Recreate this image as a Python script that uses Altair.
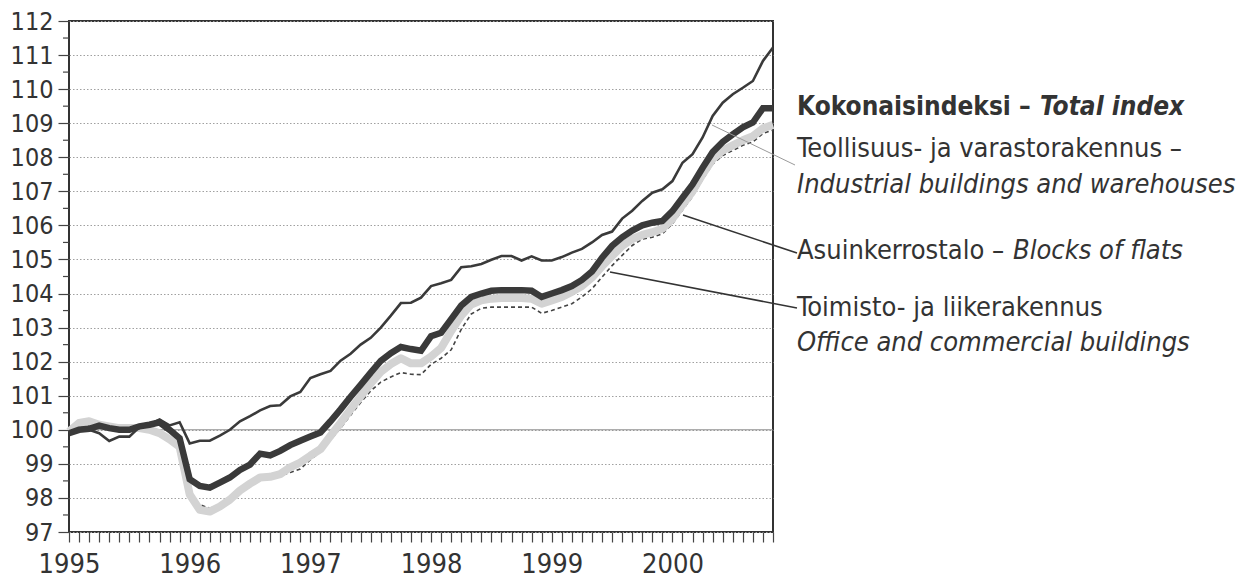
import altair as alt
import pandas as pd

# Months since January 1995 (0 = Jan 1995 ... 70 = Nov 2000)
months = list(range(71))
year_labels = ["1995", "1996", "1997", "1998", "1999", "2000"]

total_index = [99.9, 100.0, 100.03, 100.12, 100.05, 100.0, 100.0, 100.1, 100.15, 100.22,
               100.0, 99.75, 98.55, 98.35, 98.3, 98.45, 98.6, 98.82, 98.98, 99.3,
               99.25, 99.38, 99.55, 99.68, 99.8, 99.92, 100.25, 100.6, 100.97, 101.32,
               101.68, 102.02, 102.25, 102.43, 102.37, 102.32, 102.75, 102.85, 103.25, 103.65,
               103.9, 104.0, 104.08, 104.1, 104.1, 104.1, 104.08, 103.9, 104.0, 104.1,
               104.22, 104.4, 104.65, 105.05, 105.4, 105.65, 105.85, 106.0, 106.08, 106.13,
               106.42, 106.81, 107.2, 107.69, 108.15, 108.45, 108.67, 108.88, 109.02, 109.44,
               109.44]

industrial = [99.93, 100.03, 100.0, 99.9, 99.67, 99.8, 99.8, 100.08, 100.15, 100.3,
              100.13, 100.22, 99.6, 99.68, 99.68, 99.83, 100.0, 100.25, 100.4, 100.57,
              100.7, 100.72, 100.98, 101.11, 101.52, 101.63, 101.73, 102.03, 102.23, 102.5,
              102.7, 103.0, 103.35, 103.72, 103.73, 103.88, 104.22, 104.3, 104.4, 104.77,
              104.8, 104.87, 104.99, 105.1, 105.1, 104.97, 105.09, 104.97, 104.97, 105.07,
              105.2, 105.31, 105.5, 105.72, 105.82, 106.2, 106.43, 106.72, 106.96, 107.06,
              107.3, 107.84, 108.09, 108.58, 109.21, 109.6, 109.85, 110.04, 110.24, 110.83,
              111.22]

blocks_of_flats = [99.95, 100.2, 100.25, 100.15, 100.1, 100.05, 100.05, 100.05, 100.0, 99.9,
                   99.72, 99.5, 98.1, 97.65, 97.6, 97.75, 97.95, 98.22, 98.42, 98.6,
                   98.62, 98.7, 98.9, 99.04, 99.24, 99.43, 99.82, 100.2, 100.6, 100.98,
                   101.36, 101.7, 101.93, 102.1, 101.95, 101.95, 102.15, 102.4, 102.9, 103.35,
                   103.68, 103.8, 103.85, 103.87, 103.87, 103.87, 103.85, 103.7, 103.8, 103.9,
                   104.05, 104.22, 104.47, 104.8, 105.1, 105.4, 105.6, 105.72, 105.8, 105.9,
                   106.2, 106.6, 107.0, 107.5, 107.95, 108.2, 108.35, 108.5, 108.62, 108.85,
                   108.95]

office = [99.9, 100.1, 100.15, 100.1, 100.05, 100.0, 100.0, 100.0, 99.95, 99.85,
          99.65, 99.45, 98.05, 97.8, 97.7, 97.8, 97.95, 98.2, 98.4, 98.55,
          98.58, 98.65, 98.75, 98.85, 99.12, 99.35, 99.7, 100.05, 100.43, 100.8,
          101.14, 101.4, 101.55, 101.68, 101.63, 101.62, 101.92, 102.1, 102.35, 102.95,
          103.4, 103.57, 103.6, 103.6, 103.6, 103.6, 103.6, 103.42, 103.5, 103.6,
          103.7, 103.9, 104.14, 104.48, 104.82, 105.12, 105.41, 105.6, 105.65, 105.75,
          106.05, 106.45, 106.85, 107.35, 107.8, 108.05, 108.2, 108.35, 108.45, 108.7,
          108.8]

y_ticks = list(range(97, 113))
y_minor = [v + 0.5 for v in range(97, 112)]

FONT = "'DejaVu Sans Condensed', Roboto, sans-serif"
W, H = 704, 511

series = {"office": office, "flats": blocks_of_flats, "ind": industrial, "total": total_index}
rows = []
for name, vals in series.items():
    for m, v in zip(months, vals):
        rows.append({"m": m, "value": v, "s": name})
df = pd.DataFrame(rows)

label_list = "[" + ",".join("'%s'" % y for y in year_labels) + "]"
x_scale = alt.Scale(domain=[0, 70], nice=False, zero=False)
x_axis = alt.Axis(values=months, tickCount=len(months), domain=False, grid=False, tickSize=10,
                  tickColor="#444", tickWidth=1.2,
                  labelExpr="datum.value % 12 == 0 ? " + label_list + "[datum.value / 12] : ''",
                  labelOverlap=False, labelFont=FONT, labelFontSize=27,
                  labelColor="#333", labelPadding=9, labelFlush=False, title=None)
y_scale = alt.Scale(domain=[97, 112], nice=False, zero=False)
y_axis = alt.Axis(values=y_ticks, tickCount=len(y_ticks), domain=False, grid=True,
                  gridDash=[1.5, 2], gridColor="#a0a0a0", gridWidth=1, tickSize=11,
                  tickColor="#444", tickWidth=1.2, labelFont=FONT, labelFontSize=25,
                  labelColor="#333", labelPadding=5, labelOverlap=False, labelBound=False,
                  title=None)

base = alt.Chart(df)

office_line = base.transform_filter("datum.s == 'office'").mark_line(
    color="#444", strokeWidth=1.6, strokeDash=[4, 3]).encode(
    x=alt.X("m:Q", scale=x_scale, axis=x_axis),
    y=alt.Y("value:Q", scale=y_scale, axis=y_axis))
flats_line = base.transform_filter("datum.s == 'flats'").mark_line(
    color="#d3d3d3", strokeWidth=8, strokeJoin="round").encode(x="m:Q", y="value:Q")
ind_line = base.transform_filter("datum.s == 'ind'").mark_line(
    color="#3a3a3a", strokeWidth=2.6).encode(x="m:Q", y="value:Q")
total_line = base.transform_filter("datum.s == 'total'").mark_line(
    color="#3a3a3a", strokeWidth=6.5).encode(x="m:Q", y="value:Q")

ref = alt.Chart(pd.DataFrame({"value": [100]})).mark_rule(
    color="#8a8a8a", strokeWidth=1).encode(y="value:Q")

minor = alt.Chart(pd.DataFrame({"value": y_minor})).mark_rule(
    color="#444", strokeWidth=1.2).encode(y="value:Q", x=alt.value(-6), x2=alt.value(0))

# Leader lines (annotation)
leaders = pd.DataFrame({
    "x": [643, 614, 541], "y": [104, 194, 251],
    "x2": [726, 728, 728], "y2": [144, 232, 287],
    "c": ["#9a9a9a", "#333333", "#333333"], "w": [1.0, 1.6, 1.6]})
leader_marks = alt.Chart(leaders).mark_rule().encode(
    x=alt.X("x:Q", scale=None), y=alt.Y("y:Q", scale=None),
    x2="x2:Q", y2="y2:Q",
    color=alt.Color("c:N", scale=None), strokeWidth=alt.StrokeWidth("w:Q", scale=None))

# Legend texts
texts = pd.DataFrame({
    "t": ["Kokonaisindeksi –", "Total index",
          "Teollisuus- ja varastorakennus –", "Industrial buildings and warehouses",
          "Asuinkerrostalo –", "Blocks of flats",
          "Toimisto- ja liikerakennus", "Office and commercial buildings"],
    "x": [728, 971, 728, 728, 728, 944, 728, 728],
    "y": [94, 94, 136, 172, 238, 238, 295, 330],
    "wt": ["bold", "bold", "normal", "normal", "normal", "normal", "normal", "normal"],
    "st": ["normal", "italic", "normal", "italic", "normal", "italic", "normal", "italic"],
})
text_layers = []
for wt in ["bold", "normal"]:
    for st in ["normal", "italic"]:
        sub = texts[(texts.wt == wt) & (texts.st == st)]
        if len(sub) == 0:
            continue
        text_layers.append(
            alt.Chart(sub).mark_text(align="left", baseline="alphabetic", font=FONT,
                                     fontSize=26 if wt == "bold" else 27,
                                     fontWeight=wt, fontStyle=st, color="#333")
            .encode(x=alt.X("x:Q", scale=None), y=alt.Y("y:Q", scale=None), text="t:N"))

chart = alt.layer(office_line, ref, flats_line, ind_line, total_line, minor,
                  leader_marks, *text_layers).properties(
    width=W, height=H,
    autosize=alt.AutoSizeParams(type="none"),
    padding={"left": 61, "top": 13, "right": 475, "bottom": 50},
).configure_view(stroke="#333", strokeWidth=2).configure_axis(labelOverlap=False)

chart.save("out.html", embed_options={"renderer": "svg", "actions": False})
